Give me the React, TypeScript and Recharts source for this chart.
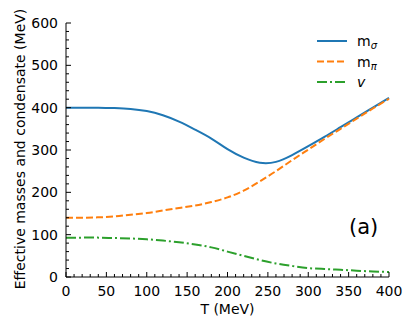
import { LineChart, Line, XAxis, YAxis } from "recharts";

const temps = [0, 20, 40, 60, 80, 100, 120, 140, 160, 180, 200, 220, 240, 260, 280, 300, 320, 340, 360, 380, 400];
const mSigma = [400, 400, 400, 399, 397, 392, 382, 367, 348, 327, 302, 282, 270, 272, 288, 309, 331, 354, 377, 400, 423];
const mPi = [140, 140, 141, 143, 147, 151, 157, 163, 169, 177, 188, 204, 226, 250, 276, 301, 326, 350, 374, 398, 421];
const cond = [93, 93, 93, 92, 91, 89, 86, 82, 77, 70, 60, 50, 40, 32, 26, 21, 19, 17, 15, 13, 12];

const xTicks = Array.from({ length: 41 }, (_, i) => i * 10);
const yTicks = Array.from({ length: 31 }, (_, i) => i * 20);

const data = temps.map((t, i) => ({ t, sigma: mSigma[i], pi: mPi[i], v: cond[i] }));

const FONT = "DejaVu Sans, sans-serif";
const BLUE = "#1f77b4";
const ORANGE = "#ff7f0e";
const GREEN = "#2ca02c";

function XTick(props: any) {
  const { x, y, payload } = props;
  const val = payload.value;
  const major = val % 50 === 0;
  return (
    <g>
      <line x1={x} x2={x} y1={y} y2={y - (major ? 5 : 3)} stroke="#000" strokeWidth={1} />
      {major && (
        <text x={x} y={y + 19} textAnchor="middle" fontSize={14} fontFamily={FONT} fill="#000">
          {val}
        </text>
      )}
    </g>
  );
}

function YTick(props: any) {
  const { x, y, payload } = props;
  const val = payload.value;
  const major = val % 100 === 0;
  return (
    <g>
      <line x1={x} x2={x + (major ? 5 : 3)} y1={y} y2={y} stroke="#000" strokeWidth={1} />
      {major && (
        <text x={x - 8} y={y} dy="0.36em" textAnchor="end" fontSize={14} fontFamily={FONT} fill="#000">
          {val}
        </text>
      )}
    </g>
  );
}

function YLabel(props: any) {
  const vb = props.viewBox;
  const cx = vb.x + 20;
  const cy = vb.y + vb.height / 2 - 1;
  return (
    <text
      x={cx}
      y={cy}
      transform={`rotate(-90, ${cx}, ${cy})`}
      textAnchor="middle"
      dominantBaseline="central"
      fontSize={14}
      fontFamily={FONT}
      fill="#000"
    >
      Effective masses and condensate (MeV)
    </text>
  );
}

function XLabel(props: any) {
  const vb = props.viewBox;
  return (
    <text
      x={vb.x + vb.width / 2}
      y={vb.y + 32}
      textAnchor="middle"
      dominantBaseline="central"
      fontSize={14}
      fontFamily={FONT}
      fill="#000"
    >
      T (MeV)
    </text>
  );
}

const legendItems = [
  { color: BLUE, dash: undefined, main: "m", sub: "σ", italic: false },
  { color: ORANGE, dash: "7 3", main: "m", sub: "π", italic: false },
  { color: GREEN, dash: "10 3 2 3", main: "v", sub: "", italic: true },
];

export default function App() {
  return (
    <div style={{ position: "absolute", left: 0, top: 0, width: 415, height: 332, background: "#fff" }}>
      <LineChart width={415} height={332} data={data} margin={{ top: 23, right: 26, left: 0, bottom: 0 }}>
        <XAxis
          dataKey="t"
          type="number"
          domain={[0, 400]}
          ticks={xTicks}
          interval={0}
          tickSize={0}
          tickMargin={0}
          tickLine={false}
          tick={<XTick />}
          height={55}
          axisLine={{ stroke: "#000", strokeWidth: 1 }}
          label={<XLabel />}
        />
        <XAxis
          xAxisId="top"
          orientation="top"
          type="number"
          domain={[0, 400]}
          height={0}
          tick={false}
          tickLine={false}
          axisLine={{ stroke: "#000", strokeWidth: 1 }}
        />
        <YAxis
          type="number"
          domain={[0, 600]}
          ticks={yTicks}
          interval={0}
          tickSize={0}
          tickMargin={0}
          tickLine={false}
          tick={<YTick />}
          width={66}
          axisLine={{ stroke: "#000", strokeWidth: 1 }}
          label={<YLabel />}
        />
        <YAxis
          yAxisId="right"
          orientation="right"
          type="number"
          domain={[0, 600]}
          width={0}
          tick={false}
          tickLine={false}
          axisLine={{ stroke: "#000", strokeWidth: 1 }}
        />
        <Line type="natural" dataKey="sigma" stroke={BLUE} strokeWidth={2} dot={false} isAnimationActive={false} />
        <Line
          type="natural"
          dataKey="pi"
          stroke={ORANGE}
          strokeWidth={2}
          strokeDasharray="7 3"
          dot={false}
          isAnimationActive={false}
        />
        <Line
          type="natural"
          dataKey="v"
          stroke={GREEN}
          strokeWidth={2}
          strokeDasharray="10 3 2 3"
          dot={false}
          isAnimationActive={false}
        />
      </LineChart>
      <svg
        width={100}
        height={70}
        style={{ position: "absolute", left: 310, top: 28, pointerEvents: "none" }}
      >
        {legendItems.map((it, i) => {
          const y = 13 + i * 20.5;
          return (
            <g key={i}>
              <line x1={7} x2={37} y1={y} y2={y} stroke={it.color} strokeWidth={2} strokeDasharray={it.dash} />
              <text x={47} y={y + 5} fontSize={14} fontFamily={FONT} fill="#000" fontStyle={it.italic ? "italic" : "normal"}>
                {it.main}
                {it.sub && (
                  <tspan fontSize={10} dy={3} fontStyle="italic">
                    {it.sub}
                  </tspan>
                )}
              </text>
            </g>
          );
        })}
      </svg>
      <div
        style={{
          position: "absolute",
          left: 349,
          top: 213,
          fontSize: 21,
          fontFamily: FONT,
          color: "#000",
          lineHeight: "28px",
        }}
      >
        (a)
      </div>
    </div>
  );
}
